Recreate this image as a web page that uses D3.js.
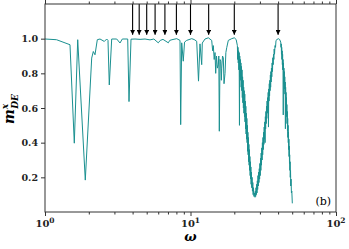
<!DOCTYPE html>
<html>
<head>
<meta charset="utf-8">
<script src="https://cdn.jsdelivr.net/npm/d3@7"></script>
<style>
  body { margin: 0; background: #fff; }
  svg { display: block; }
  .tick-label { font-family: "DejaVu Serif", serif; font-weight: bold; font-size: 9.5px; fill: #222; }
</style>
</head>
<body>
<div id="chart"></div>
<script>
const omega = [
  1.00, 1.20, 1.485, 1.59, 1.678, 1.892, 2.094, 2.148, 2.206, 2.288, 2.388, 2.557, 2.655, 2.71, 2.766, 2.873,
  3.111, 3.278, 3.399, 3.702, 3.779, 3.90, 4.156, 4.50, 4.87, 5.27, 5.6, 6.005, 6.2, 6.47, 7.04, 7.2, 7.46,
  8.04, 8.47, 8.56, 8.70, 8.92, 9.1, 9.41, 10.19, 10.6, 11.03, 11.35, 11.62, 11.94, 12.05, 12.58, 13.26,
  13.99, 14.2, 14.35, 14.55, 14.74, 14.9, 15.09, 15.3, 15.53, 15.65, 15.78, 15.95, 16.13, 16.3, 16.39, 16.6,
  16.81, 17.0, 17.27, 17.5, 17.74, 18.19, 19.2, 20.0, 20.6,
  21.0, 21.1, 21.2, 21.3, 21.4, 21.5, 21.6, 21.7, 21.8, 21.9, 22.0, 22.1, 22.2, 22.3, 22.4, 22.5, 22.6, 22.7,
  22.8, 22.9, 23.0, 23.1, 23.2, 23.3, 23.4, 23.5, 23.6, 23.7, 23.8, 23.9, 24.0, 24.1, 24.2, 24.3, 24.4, 24.5,
  24.6, 24.7, 24.8, 24.9, 25.0, 25.1, 25.2, 25.3, 25.4, 25.5, 25.6, 25.7, 25.8, 25.9, 26.0, 26.1, 26.2, 26.35,
  26.5, 26.65, 26.8, 26.95, 27.1, 27.3, 27.5, 27.75,
  27.9, 28.05, 28.2, 28.35, 28.5, 28.65, 28.8, 28.95, 29.1, 29.25, 29.4, 29.55, 29.7, 29.85, 30.0, 30.15,
  30.3, 30.45, 30.6, 30.75, 30.9, 31.05, 31.2, 31.35, 31.5, 31.65, 31.8, 31.95, 32.1, 32.25, 32.4, 32.55,
  32.7, 32.85, 33.0, 33.15, 33.3, 33.45, 33.6, 33.75, 33.9, 34.05, 34.2, 34.35, 34.5, 34.65, 34.8, 34.95,
  35.1, 35.25, 35.4, 35.55, 35.7, 35.85, 36.0, 36.2, 36.4, 36.6, 36.8, 37.0, 37.2, 37.4, 37.6, 37.8,
  38.1, 38.4, 38.7, 39.3, 40.12, 41.0,
  41.7, 41.9, 42.05, 42.2, 42.35, 42.5, 42.65, 42.8, 42.95, 43.1, 43.25, 43.4, 43.55, 43.7, 43.85, 44.0,
  44.15, 44.3, 44.45, 44.6, 44.75, 44.9, 45.05, 45.2, 45.35, 45.5, 45.65, 45.8, 45.95, 46.1, 46.25, 46.4,
  46.55, 46.7, 46.85, 47.0, 47.15, 47.3, 47.45, 47.6, 47.75, 47.9, 48.05, 48.2, 48.35, 48.5, 48.7, 48.9,
  49.1, 49.4, 49.7, 50.1
];
const mde = [
  0.998, 0.994, 0.965, 0.397, 0.994, 0.184, 0.888, 0.926, 0.907, 0.994, 0.998, 0.984, 0.998, 0.99, 0.733, 0.998,
  0.998, 0.975, 0.998, 0.998, 0.637, 0.997, 0.998, 0.996, 0.998, 0.993, 0.998, 0.976, 0.99, 0.996, 0.976, 0.99, 0.994,
  1.0, 0.99, 0.504, 0.976, 0.87, 0.98, 0.99, 1.0, 0.995, 0.985, 0.755, 0.97, 0.85, 0.975, 0.998, 1.005,
  0.99, 0.93, 0.96, 0.88, 0.92, 0.80, 0.90, 0.83, 0.85, 0.90, 0.466, 0.88, 0.87, 0.76, 0.83, 0.90,
  0.89, 0.74, 0.80, 0.92, 0.948, 0.99, 1.0, 1.005, 0.995,
  0.96, 0.88, 0.95, 0.86, 0.93, 0.82, 0.92, 0.50, 0.90, 0.78, 0.88, 0.76, 0.86, 0.72, 0.84, 0.70, 0.82, 0.66,
  0.78, 0.63, 0.76, 0.60, 0.72, 0.57, 0.70, 0.55, 0.68, 0.52, 0.64, 0.48, 0.61, 0.45, 0.57, 0.42, 0.54, 0.40,
  0.50, 0.35, 0.46, 0.33, 0.43, 0.29, 0.39, 0.27, 0.36, 0.24, 0.32, 0.21, 0.29, 0.19, 0.26, 0.16, 0.23, 0.14,
  0.20, 0.12, 0.17, 0.10, 0.14, 0.09, 0.11, 0.085,
  0.12, 0.09, 0.14, 0.10, 0.16, 0.11, 0.18, 0.13, 0.21, 0.15, 0.23, 0.17, 0.25, 0.19, 0.28, 0.21,
  0.31, 0.24, 0.34, 0.27, 0.37, 0.30, 0.40, 0.33, 0.43, 0.36, 0.46, 0.39, 0.49, 0.42, 0.52, 0.40,
  0.55, 0.48, 0.58, 0.51, 0.61, 0.54, 0.64, 0.57, 0.66, 0.60, 0.69, 0.49, 0.71, 0.64, 0.74, 0.67,
  0.76, 0.70, 0.79, 0.72, 0.81, 0.75, 0.83, 0.78, 0.86, 0.81, 0.89, 0.85, 0.91, 0.88, 0.94, 0.91,
  0.96, 0.95, 0.99, 0.995, 1.0, 0.995,
  0.98, 0.95, 0.97, 0.91, 0.95, 0.88, 0.93, 0.85, 0.91, 0.82, 0.88, 0.56, 0.86, 0.77, 0.83, 0.74,
  0.81, 0.71, 0.78, 0.68, 0.75, 0.48, 0.72, 0.62, 0.69, 0.59, 0.66, 0.55, 0.62, 0.51, 0.58, 0.47,
  0.54, 0.43, 0.50, 0.40, 0.46, 0.36, 0.42, 0.32, 0.38, 0.28, 0.33, 0.24, 0.29, 0.20, 0.24, 0.15,
  0.19, 0.11, 0.12, 0.05
];
const arrowOmega = [40, 20, 13.33, 10, 8, 6.67, 5.71, 5, 4.44, 4];
const yTicks = [0.2, 0.4, 0.6, 0.8, 1.0];
const xMajor = [1, 10, 100];
const xExponents = ["0", "1", "2"];

const W = 349, H = 249;
const margin = {top: 4, right: 13, bottom: 37, left: 45};
const iw = W - margin.left - margin.right, ih = H - margin.top - margin.bottom;

const x = d3.scaleLog().domain([1, 100]).range([0, iw]);
const y = d3.scaleLinear().domain([0, 1.2]).range([ih, 0]);

const svg = d3.select("#chart").append("svg")
    .attr("width", W).attr("height", H);

svg.append("defs").append("marker")
    .attr("id", "head")
    .attr("viewBox", "0 0 10 10")
    .attr("refX", 10).attr("refY", 5)
    .attr("markerWidth", 5).attr("markerHeight", 5)
    .attr("markerUnits", "userSpaceOnUse")
    .attr("orient", "auto")
  .append("path")
    .attr("d", "M0,0L10,5L0,10z")
    .attr("fill", "#000");

const g = svg.append("g").attr("transform", `translate(${margin.left},${margin.top})`);

const pts = omega.map((w, i) => [w, mde[i]]);

g.append("path")
    .datum(pts)
    .attr("fill", "none")
    .attr("stroke", "#1a9090")
    .attr("stroke-width", 1)
    .attr("stroke-linejoin", "round")
    .attr("d", d3.line().x(d => x(d[0])).y(d => y(d[1])));

// arrows from the top frame down to the peaks
g.selectAll(".arrow")
  .data(arrowOmega)
  .join("line")
    .attr("x1", d => x(d)).attr("x2", d => x(d))
    .attr("y1", 0).attr("y2", y(1.022))
    .attr("stroke", "#000")
    .attr("stroke-width", 1.1)
    .attr("marker-end", "url(#head)");

// frame
g.append("rect")
    .attr("width", iw).attr("height", ih)
    .attr("fill", "none").attr("stroke", "#333").attr("stroke-width", 1);

const isMajor = d => xMajor.includes(d);
const xTicks = x.ticks();

// bottom ticks
const axB = d3.axisBottom(x).tickValues(xTicks).tickFormat("").tickSizeOuter(0);
const gb = g.append("g").attr("transform", `translate(0,${ih})`).call(axB);
gb.select(".domain").remove();
gb.selectAll(".tick line").attr("y2", d => isMajor(d) ? 4 : 2.5).attr("stroke", "#333");

// top ticks
const axT = d3.axisTop(x).tickValues(xTicks).tickFormat("").tickSizeOuter(0);
const gt = g.append("g").call(axT);
gt.select(".domain").remove();
gt.selectAll(".tick line").attr("y2", d => isMajor(d) ? -4 : -2.5).attr("stroke", "#333");

// x tick labels 10^n
xMajor.forEach((v, i) => {
  const t = g.append("text").attr("class", "tick-label")
      .attr("x", x(v)).attr("y", ih + 15).attr("text-anchor", "middle")
      .style("font-size", "10px");
  t.append("tspan").text("10");
  t.append("tspan").attr("dy", -4).attr("font-size", "7.5px").text(xExponents[i]);
});

// y axis
const axL = d3.axisLeft(y).tickValues(yTicks).tickFormat(d3.format(".1f")).tickSize(4).tickSizeOuter(0);
const gl = g.append("g").call(axL);
gl.select(".domain").remove();
gl.selectAll(".tick line").attr("stroke", "#333");
gl.selectAll(".tick text").attr("class", "tick-label").attr("x", -7).attr("dy", "0.35em");

// axis titles
svg.append("text")
    .attr("x", margin.left + x(10)).attr("y", 241)
    .attr("text-anchor", "middle")
    .style("font-family", "DejaVu Serif, serif").style("font-weight", "bold")
    .style("font-style", "italic").style("font-size", "13px")
    .text("ω");

const yl = svg.append("text")
    .attr("transform", "translate(14,124) rotate(-90)")
    .attr("text-anchor", "start")
    .style("font-family", "DejaVu Serif, serif").style("font-weight", "bold")
    .style("font-style", "italic").style("font-size", "14px");
yl.append("tspan").text("m");
yl.append("tspan").attr("dy", -6).attr("font-size", "9px").text("x");
yl.append("tspan").attr("dx", -5).attr("dy", 10).attr("font-size", "9px").text("DE");

svg.append("text")
    .attr("x", margin.left + iw - 5).attr("y", margin.top + ih - 7)
    .attr("text-anchor", "end")
    .style("font-family", "DejaVu Serif, serif").style("font-size", "11px")
    .text("(b)");
</script>
</body>
</html>
